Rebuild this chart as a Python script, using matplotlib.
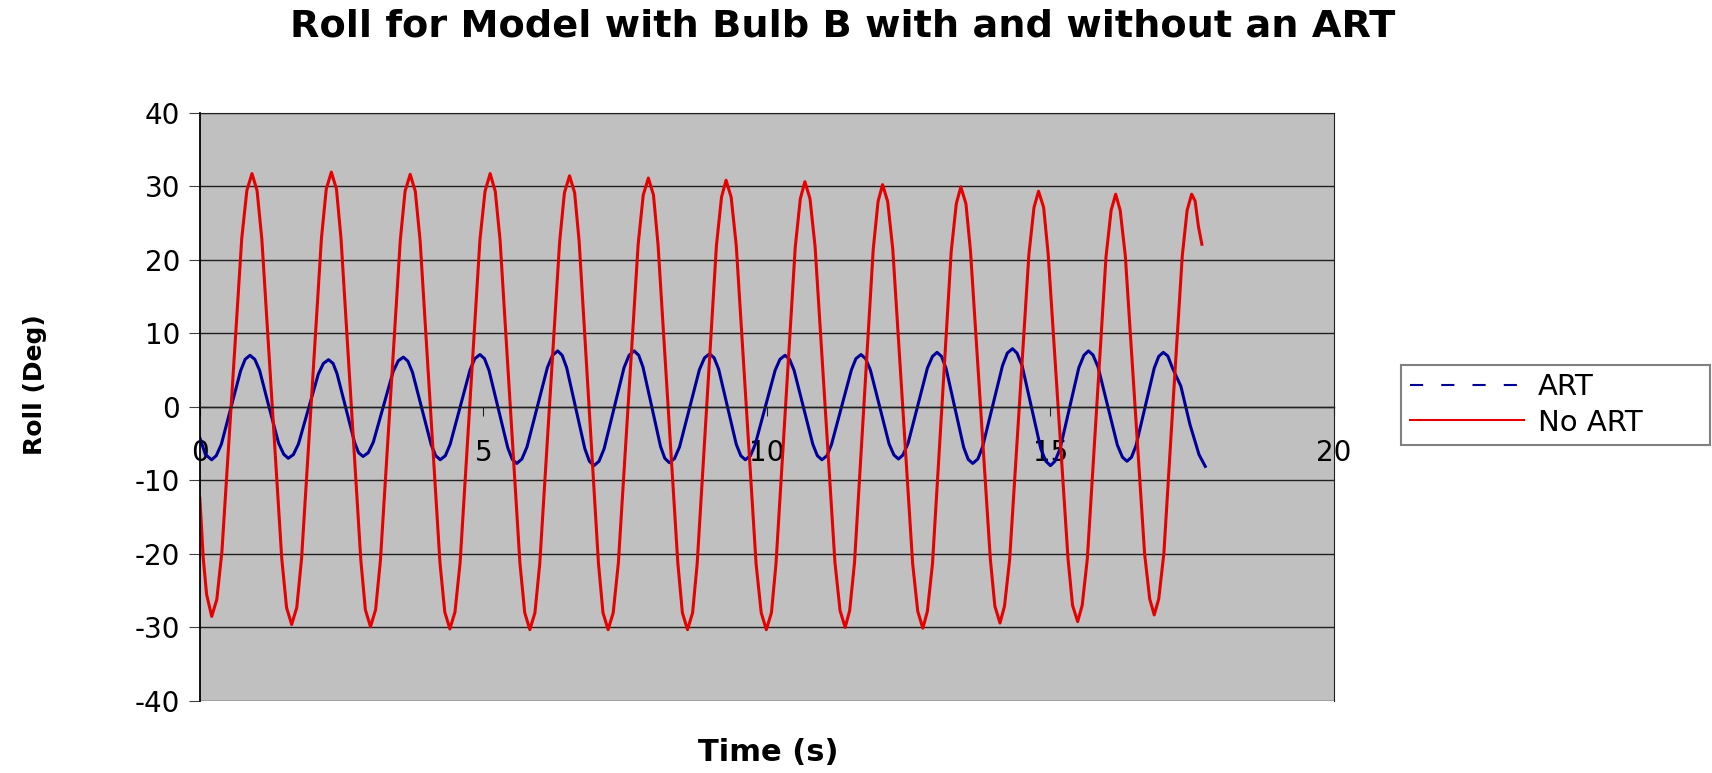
import matplotlib
matplotlib.use("Agg")
import matplotlib.pyplot as plt
from matplotlib.lines import Line2D

# Roll angle (time in s, roll in deg), one row per half swing
no_art_t = [0.00, 0.03, 0.06, 0.12, 0.21,
            0.30, 0.39, 0.565, 0.74, 0.83, 0.92,
            1.01, 1.095, 1.27, 1.445, 1.53, 1.62,
            1.71, 1.795, 1.97, 2.145, 2.23, 2.32,
            2.41, 2.49, 2.665, 2.84, 2.92, 3.01,
            3.10, 3.185, 3.36, 3.535, 3.62, 3.71,
            3.80, 3.885, 4.06, 4.235, 4.32, 4.41,
            4.50, 4.59, 4.765, 4.94, 5.03, 5.12,
            5.21, 5.295, 5.47, 5.645, 5.73, 5.82,
            5.91, 5.995, 6.17, 6.345, 6.43, 6.52,
            6.61, 6.69, 6.86, 7.03, 7.11, 7.20,
            7.29, 7.38, 7.555, 7.73, 7.82, 7.91,
            8.00, 8.08, 8.255, 8.43, 8.51, 8.60,
            8.69, 8.77, 8.94, 9.11, 9.20, 9.28,
            9.37, 9.46, 9.635, 9.81, 9.90, 9.99,
            10.08, 10.16, 10.33, 10.50, 10.59, 10.67,
            10.76, 10.85, 11.025, 11.20, 11.29, 11.38,
            11.46, 11.545, 11.71, 11.875, 11.96, 12.04,
            12.13, 12.22, 12.395, 12.57, 12.66, 12.75,
            12.83, 12.92, 13.085, 13.25, 13.34, 13.42,
            13.51, 13.59, 13.765, 13.94, 14.02, 14.11,
            14.19, 14.28, 14.45, 14.62, 14.71, 14.79,
            14.88, 14.96, 15.135, 15.31, 15.39, 15.48,
            15.56, 15.65, 15.815, 15.98, 16.07, 16.15,
            16.23, 16.32, 16.49, 16.66, 16.75, 16.83,
            16.91, 17.00, 17.16, 17.325, 17.41, 17.49,
            17.55, 17.61, 17.67]
no_art_v = [-12.4, -16.3, -20.5, -25.5, -28.5,
            -26.2, -19.7, 1.6, 22.9, 29.4, 31.7,
            29.4, 22.7, 1.0, -20.6, -27.3, -29.6,
            -27.3, -20.6, 1.2, 22.9, 29.6, 31.9,
            29.6, 22.9, 1.0, -20.9, -27.6, -29.9,
            -27.6, -20.9, 0.85, 22.6, 29.3, 31.6,
            29.3, 22.6, 0.7, -21.2, -27.9, -30.2,
            -27.9, -21.2, 0.75, 22.7, 29.3, 31.7,
            29.3, 22.65, 0.7, -21.25, -28.0, -30.3,
            -28.0, -21.3, 0.55, 22.4, 29.1, 31.4,
            29.1, 22.4, 0.55, -21.3, -28.0, -30.3,
            -28.0, -21.3, 0.4, 22.1, 28.8, 31.1,
            28.8, 22.1, 0.4, -21.3, -28.0, -30.3,
            -28.0, -21.4, 0.25, 21.9, 28.5, 30.8,
            28.5, 21.9, 0.25, -21.4, -28.0, -30.3,
            -28.0, -21.4, 0.15, 21.7, 28.3, 30.6,
            28.3, 21.75, 0.3, -21.15, -27.7, -30.0,
            -27.7, -21.2, 0.1, 21.4, 27.9, 30.2,
            27.9, 21.4, 0.05, -21.3, -27.8, -30.1,
            -27.8, -21.35, -0.1, 21.1, 27.6, 29.9,
            27.6, 21.2, 0.25, -20.7, -27.1, -29.4,
            -27.1, -20.8, 0.0, 20.7, 27.1, 29.3,
            27.1, 20.75, 0.05, -20.65, -27.0, -29.2,
            -27.0, -20.7, -0.15, 20.4, 26.7, 28.9,
            26.7, 20.55, 0.3, -19.95, -26.1, -28.3,
            -26.1, -19.95, 0.3, 20.55, 26.7, 28.9,
            28.0, 24.5, 22.1]

art_t = [0.00, 0.10, 0.21,
         0.29, 0.38, 0.55, 0.72, 0.80, 0.885,
         0.97, 1.055, 1.22, 1.39, 1.48, 1.56,
         1.65, 1.74, 1.915, 2.09, 2.18, 2.27,
         2.35, 2.42, 2.575, 2.73, 2.80, 2.88,
         2.97, 3.06, 3.235, 3.41, 3.50, 3.59,
         3.67, 3.75, 3.915, 4.08, 4.16, 4.24,
         4.33, 4.415, 4.59, 4.765, 4.85, 4.94,
         5.02, 5.10, 5.265, 5.43, 5.51, 5.59,
         5.68, 5.77, 5.95, 6.13, 6.22, 6.31,
         6.39, 6.47, 6.63, 6.79, 6.87, 6.95,
         7.04, 7.13, 7.305, 7.48, 7.57, 7.66,
         7.74, 7.815, 7.97, 8.125, 8.20, 8.28,
         8.37, 8.46, 8.635, 8.81, 8.90, 8.99,
         9.07, 9.15, 9.305, 9.46, 9.54, 9.62,
         9.71, 9.795, 9.97, 10.145, 10.23, 10.32,
         10.40, 10.48, 10.645, 10.81, 10.89, 10.97,
         11.06, 11.14, 11.315, 11.49, 11.57, 11.66,
         11.74, 11.825, 11.99, 12.155, 12.24, 12.32,
         12.40, 12.49, 12.66, 12.83, 12.92, 13.00,
         13.08, 13.16, 13.315, 13.47, 13.55, 13.63,
         13.72, 13.805, 13.98, 14.155, 14.24, 14.33,
         14.41, 14.50, 14.665, 14.83, 14.92, 15.00,
         15.08, 15.17, 15.335, 15.50, 15.59, 15.67,
         15.75, 15.84, 16.01, 16.18, 16.27, 16.35,
         16.43, 16.51, 16.67, 16.83, 16.91, 16.99,
         17.07, 17.15, 17.30, 17.46, 17.62, 17.73]
art_v = [-4.2, -6.5, -7.2,
         -6.65, -5.1, -0.1, 4.9, 6.45, 7.0,
         6.45, 4.95, 0.0, -4.95, -6.45, -7.0,
         -6.5, -5.05, -0.3, 4.45, 5.9, 6.4,
         5.9, 4.5, -0.2, -4.85, -6.25, -6.75,
         -6.25, -4.8, 0.0, 4.8, 6.25, 6.75,
         6.2, 4.7, -0.2, -5.15, -6.65, -7.2,
         -6.65, -5.1, -0.05, 5.0, 6.55, 7.1,
         6.55, 4.95, -0.3, -5.55, -7.15, -7.7,
         -7.1, -5.45, -0.05, 5.35, 7.0, 7.6,
         7.0, 5.3, -0.2, -5.7, -7.4, -8.0,
         -7.4, -5.7, -0.2, 5.3, 7.0, 7.6,
         7.0, 5.4, 0.0, -5.4, -7.0, -7.6,
         -7.05, -5.45, -0.2, 5.05, 6.65, 7.2,
         6.65, 5.1, 0.0, -5.1, -6.65, -7.2,
         -6.65, -5.1, -0.1, 4.95, 6.45, 7.0,
         6.45, 4.95, -0.1, -5.1, -6.65, -7.2,
         -6.65, -5.1, -0.05, 5.0, 6.55, 7.1,
         6.55, 5.0, 0.0, -5.05, -6.55, -7.1,
         -6.55, -4.95, 0.15, 5.25, 6.85, 7.4,
         6.85, 5.2, -0.15, -5.5, -7.15, -7.7,
         -7.1, -5.4, 0.1, 5.6, 7.3, 7.9,
         7.3, 5.6, -0.05, -5.7, -7.4, -8.0,
         -7.4, -5.7, -0.2, 5.3, 7.0, 7.6,
         7.05, 5.4, 0.1, -5.2, -6.85, -7.4,
         -6.85, -5.25, 0.0, 5.25, 6.85, 7.4,
         6.9, 5.3, 2.8, -2.4, -6.5, -8.1]

x_ticks = [0, 5, 10, 15, 20]
y_ticks = [-40, -30, -20, -10, 0, 10, 20, 30, 40]

blue = '#000099'
red = '#E60000'

plt.rcParams['font.family'] = ['DejaVu Sans']
plt.rcParams['axes.unicode_minus'] = False

fig = plt.figure(figsize=(17.12, 7.73), dpi=100)
ax = fig.add_axes([0.1167, 0.0931, 0.6625, 0.7613])
ax.set_facecolor('#C0C0C0')

ax.plot(art_t, art_v, color=blue, lw=2.2)
ax.plot(no_art_t, no_art_v, color=red, lw=2.2)

ax.set_xlim(0, 20)
ax.set_ylim(-40, 40)
ax.set_xticks(x_ticks)
ax.set_yticks(y_ticks)
ax.tick_params(axis='both', labelsize=20)
ax.tick_params(axis='y', direction='out', length=8, pad=6, color='#404040')
ax.tick_params(axis='x', direction='out', length=6.5, pad=17, color='#202020')

ax.yaxis.grid(True, color='#202020', lw=1.0)
ax.set_axisbelow(True)

ax.spines['bottom'].set_position(('data', 0))
ax.spines['bottom'].set_color('#202020')
ax.spines['bottom'].set_linewidth(1.0)
ax.spines['left'].set_color('black')
ax.spines['left'].set_linewidth(1.3)
ax.spines['right'].set_color('#202020')
ax.spines['top'].set_color('#202020')

fig.text(0.4924, 0.966, 'Roll for Model with Bulb B with and without an ART',
         ha='center', va='center', fontsize=27.5, fontweight='bold')
fig.text(0.4486, 0.026, 'Time (s)', ha='center', va='center',
         fontsize=22, fontweight='bold')
fig.text(0.0204, 0.503, 'Roll (Deg)', ha='center', va='center',
         rotation=90, fontsize=18, fontweight='bold')

handles = [Line2D([], [], color=blue, lw=1.5, ls=(0, (6.3, 8.7))),
           Line2D([], [], color=red, lw=1.5)]
leg = fig.legend(handles, ['ART', 'No ART'], loc='center left',
                 bbox_to_anchor=(0.8184, 0.4179, 0.1804, 0.1164), mode='expand',
                 fancybox=False, edgecolor='#808080', framealpha=1,
                 handlelength=3.9, handletextpad=0.5, borderaxespad=0,
                 borderpad=0.3, labelspacing=0.25, fontsize=21)
leg.get_frame().set_linewidth(1.5)

fig.savefig('out.png', dpi=100)
